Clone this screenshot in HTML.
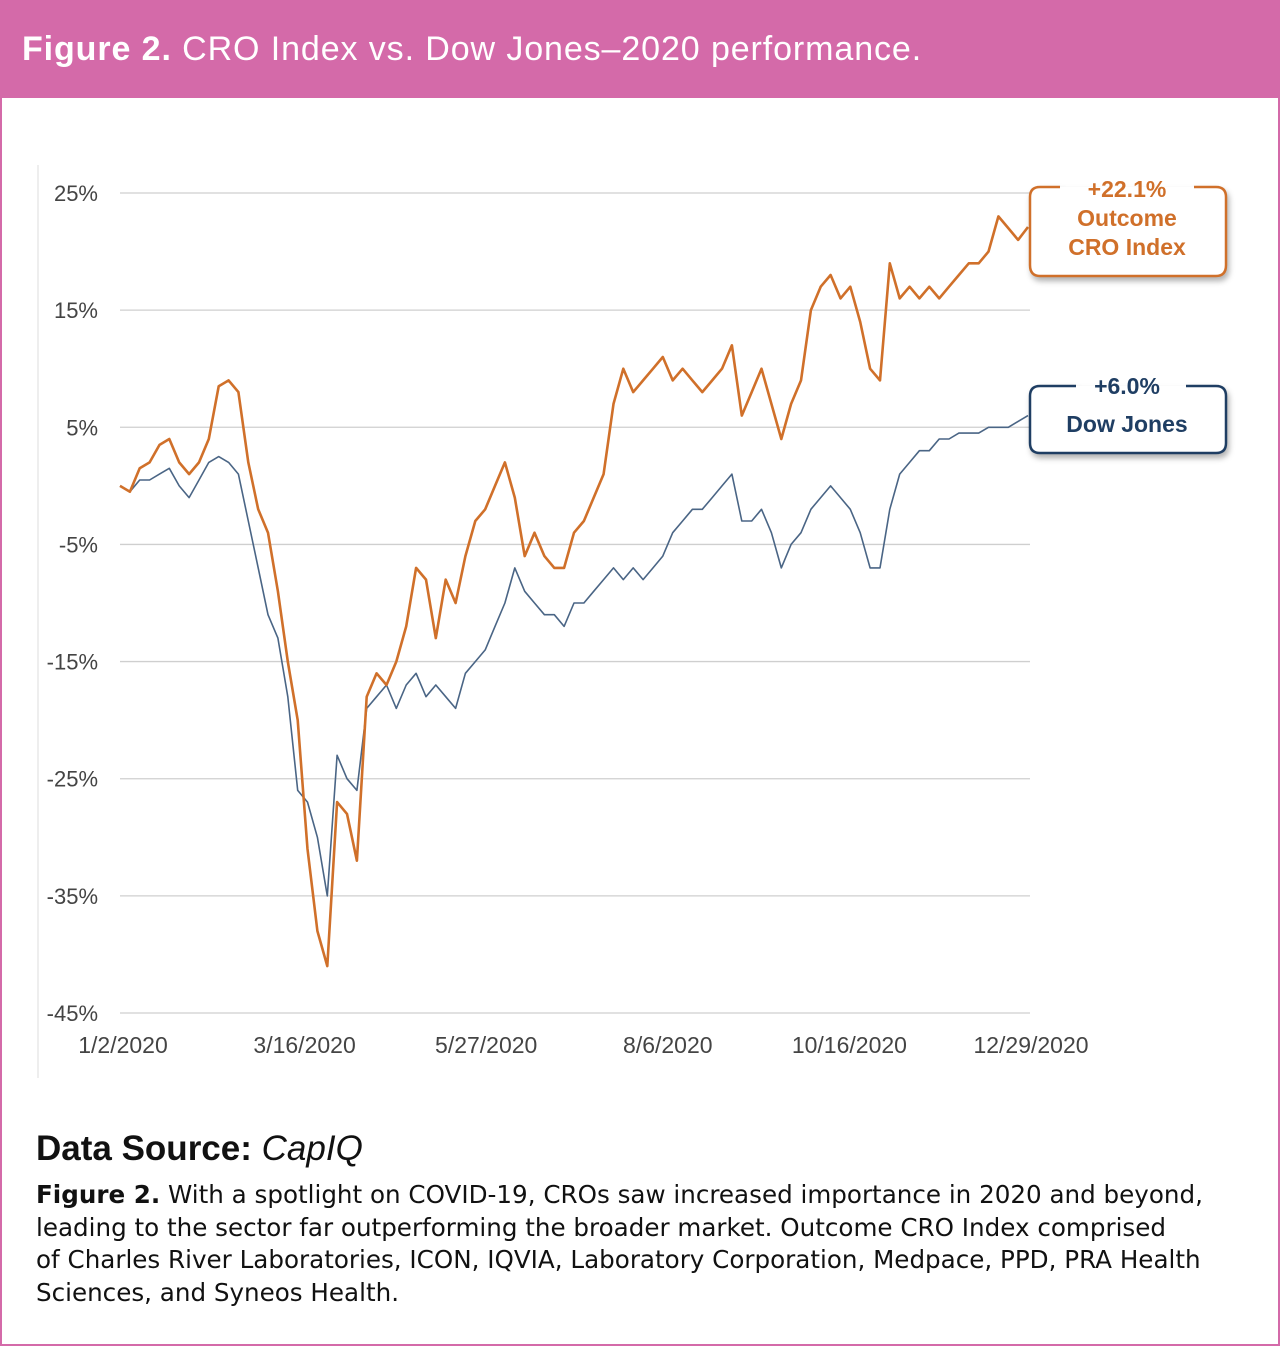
<!DOCTYPE html>
<html><head><meta charset="utf-8"><style>
body{margin:0;width:1280px;height:1348px;background:#fff;font-family:"Liberation Sans",sans-serif;position:relative;overflow:hidden}
#frame{position:absolute;left:0;top:0;width:1276px;height:1344px;border:2px solid #d46aa9;border-top:none}
#hdr{position:absolute;left:0;top:0;width:1280px;height:98px;background:#d46aa9;color:#fff;font-size:34px;letter-spacing:0.9px;line-height:98px;padding-left:22px;box-sizing:border-box}
#src{position:absolute;left:36px;top:1129px;font-size:35px;color:#111}
#cap{position:absolute;left:36px;top:1179px;width:1240px;font-family:"DejaVu Sans",sans-serif;font-size:24.6px;line-height:32.5px;color:#111;white-space:nowrap}
</style></head><body>
<div id="frame"></div>
<div id="hdr"><b>Figure 2.</b> CRO Index vs. Dow Jones–2020 performance.</div>
<svg id="chart" width="1280" height="1110" style="position:absolute;left:0;top:0">
<line x1="38" y1="165" x2="38" y2="1078" stroke="#ddd" stroke-width="1"/>
<g id="grid"></g><g id="ylab"></g><g id="xlab"></g><g id="lines"></g>
<g>
<path d="M1060 187 H1040 Q1030 187 1030 197 V265 Q1030 276 1040 276 H1216 Q1226 276 1226 265 V197 Q1226 187 1216 187 H1194" fill="#fff" stroke="#d0702a" stroke-width="2.5" style="filter:drop-shadow(2px 4px 3px rgba(0,0,0,.3))"/>
<text x="1127" y="197" text-anchor="middle" font-size="23" font-weight="bold" fill="#d0702a">+22.1%</text>
<text x="1127" y="226" text-anchor="middle" font-size="23" font-weight="bold" fill="#d0702a">Outcome</text>
<text x="1127" y="255" text-anchor="middle" font-size="23" font-weight="bold" fill="#d0702a">CRO Index</text>
</g>
<g>
<path d="M1076 386 H1040 Q1030 386 1030 396 V443 Q1030 453 1040 453 H1216 Q1226 453 1226 443 V396 Q1226 386 1216 386 H1186" fill="#fff" stroke="#1f3e63" stroke-width="2.5" style="filter:drop-shadow(2px 4px 3px rgba(0,0,0,.3))"/>
<text x="1127" y="394" text-anchor="middle" font-size="23" font-weight="bold" fill="#1f3e63">+6.0%</text>
<text x="1127" y="432" text-anchor="middle" font-size="23" font-weight="bold" fill="#1f3e63">Dow Jones</text>
</g>
</svg>
<div id="src"><b>Data Source:</b> <i>CapIQ</i></div>
<div id="cap"><b>Figure 2.</b> With a spotlight on COVID-19, CROs saw increased importance in 2020 and beyond,<br>leading to the sector far outperforming the broader market. Outcome CRO Index comprised<br>of Charles River Laboratories, ICON, IQVIA, Laboratory Corporation, Medpace, PPD, PRA Health<br>Sciences, and Syneos Health.</div>
<script>
const yTicks=[25,15,5,-5,-15,-25,-35,-45];
const xTickLabels=["1/2/2020","3/16/2020","5/27/2020","8/6/2020","10/16/2020","12/29/2020"];
const dowValues=[0,-0.5,0.5,0.5,1,1.5,0,-1,0.5,2,2.5,2,1,-3,-7,-11,-13,-18,-26,-27,-30,-35,-23,-25,-26,-19,-18,-17,-19,-17,-16,-18,-17,-18,-19,-16,-15,-14,-12,-10,-7,-9,-10,-11,-11,-12,-10,-10,-9,-8,-7,-8,-7,-8,-7,-6,-4,-3,-2,-2,-1,0,1,-3,-3,-2,-4,-7,-5,-4,-2,-1,0,-1,-2,-4,-7,-7,-2,1,2,3,3,4,4,4.5,4.5,4.5,5,5,5,5.5,6];
const croValues=[0,-0.5,1.5,2,3.5,4,2,1,2,4,8.5,9,8,2,-2,-4,-9,-15,-20,-31,-38,-41,-27,-28,-32,-18,-16,-17,-15,-12,-7,-8,-13,-8,-10,-6,-3,-2,0,2,-1,-6,-4,-6,-7,-7,-4,-3,-1,1,7,10,8,9,10,11,9,10,9,8,9,10,12,6,8,10,7,4,7,9,15,17,18,16,17,14,10,9,19,16,17,16,17,16,17,18,19,19,20,23,22,21,22.1];
const ns="http://www.w3.org/2000/svg";
const x0=120,x1=1028,yTop=193,yBot=1013;
function yScale(v){return yTop+(25-v)*(yBot-yTop)/70;}
function xScale(i,n){return x0+i*(x1-x0)/(n-1);}
function mk(t,a,p){const e=document.createElementNS(ns,t);for(const k in a)e.setAttribute(k,a[k]);p.appendChild(e);return e;}
const grid=document.getElementById('grid'),ylab=document.getElementById('ylab'),xlab=document.getElementById('xlab'),lines=document.getElementById('lines');
yTicks.forEach(v=>{
 const l=mk('line',{x1:120,x2:1030,y1:yScale(v),y2:yScale(v),stroke:'#cfcfcf','stroke-width':1.3},grid);
 
 
 const t=mk('text',{x:98,y:yScale(v)+8,'text-anchor':'end','font-size':22,fill:'#444'},ylab);
 t.textContent=v+'%';
 
 
});
xTickLabels.forEach((s,i)=>{
 const t=mk('text',{x:x0+i*(x1-x0)/(xTickLabels.length-1)+3,y:1053,'text-anchor':'middle','font-size':23,fill:'#444'},xlab);
 t.textContent=s;
 
 
});
function path(vals,color,w,name){
 const d=vals.map((v,i)=>(i?'L':'M')+xScale(i,vals.length).toFixed(1)+' '+yScale(v).toFixed(1)).join(' ');
 const p=mk('path',{d:d,fill:'none',stroke:color,'stroke-width':w,'stroke-linejoin':'round'},lines);
 
 
}
path(dowValues,'#4a6585',1.6,'dow-jones-line');
path(croValues,'#d0702a',2.6,'cro-index-line');
</script>
</body></html>
